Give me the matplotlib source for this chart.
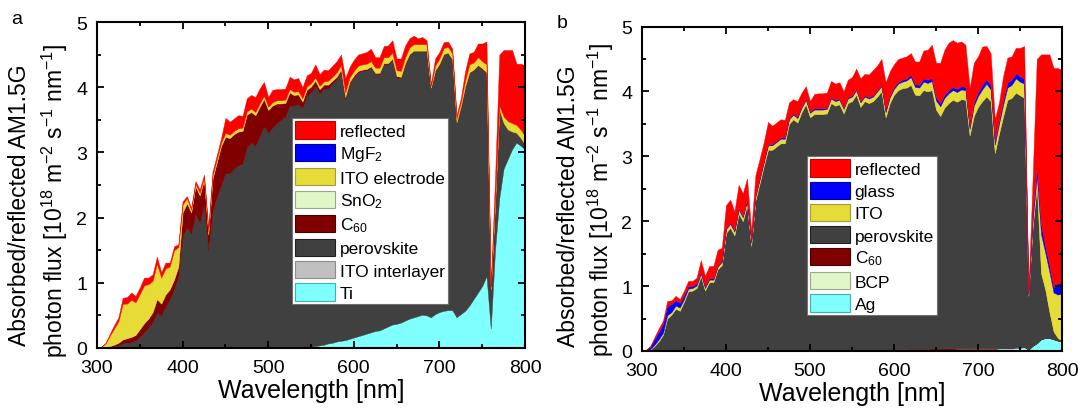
import numpy as np
import matplotlib
matplotlib.use("Agg")
import matplotlib.pyplot as plt
from matplotlib.patches import Patch
from matplotlib.ticker import MultipleLocator

plt.rcParams["font.family"] = ["Liberation Sans", "DejaVu Sans"]
plt.rcParams["mathtext.fontset"] = "custom"
plt.rcParams["mathtext.rm"] = "Liberation Sans"
plt.rcParams["mathtext.it"] = "Liberation Sans:italic"
plt.rcParams["mathtext.bf"] = "Liberation Sans:bold"

# ---------------- DATA ----------------
# wavelength grid [nm], 5 nm steps
wl = np.arange(300, 801, 5)

# ---- (a) MgF2 / ITO / SnO2 / C60 / perovskite / ITO / Ti ----
# upper edges of the stacked areas [1e18 m^-2 s^-1 nm^-1]
a_total = [0, 0.02, 0.08, 0.22, 0.35, 0.47, 0.77, 0.78, 0.85, 0.80,
           0.93, 1.08, 1.08, 1.13, 1.40, 1.16, 1.31, 1.31, 1.56, 1.59,
           2.25, 2.33, 2.15, 2.56, 2.43, 2.66, 1.85, 2.71, 2.96, 3.22,
           3.53, 3.47, 3.52, 3.57, 3.56, 3.83, 3.88, 3.85, 3.98, 4.08,
           3.85, 3.96, 3.97, 3.97, 3.98, 4.16, 4.12, 4.14, 4.00, 4.18,
           4.22, 4.35, 4.20, 4.27, 4.26, 4.33, 4.40, 4.50, 4.14, 4.31,
           4.42, 4.50, 4.52, 4.54, 4.59, 4.46, 4.46, 4.63, 4.64, 4.72,
           4.44, 4.44, 4.64, 4.75, 4.79, 4.75, 4.77, 4.72, 4.05, 4.44,
           4.54, 4.69, 4.70, 4.59, 3.57, 3.83, 4.24, 4.52, 4.54, 4.67,
           4.67, 4.70, 0.95, 2.60, 4.50, 4.57, 4.57, 4.57, 4.36, 4.36,
           4.33]
a_ito_top = [0, 0.02, 0.07, 0.19, 0.30, 0.41, 0.68, 0.68, 0.74, 0.70,
             0.83, 0.96, 0.98, 1.03, 1.30, 1.08, 1.22, 1.25, 1.50, 1.55,
             2.20, 2.30, 2.12, 2.52, 2.38, 2.62, 1.78, 2.65, 2.90, 3.15,
             3.30, 3.27, 3.33, 3.37, 3.38, 3.63, 3.67, 3.62, 3.75, 3.87,
             3.70, 3.77, 3.80, 3.80, 3.81, 3.97, 3.93, 3.94, 3.83, 4.01,
             4.06, 4.15, 4.02, 4.09, 4.10, 4.16, 4.23, 4.34, 3.92, 4.15,
             4.25, 4.33, 4.35, 4.36, 4.40, 4.30, 4.30, 4.46, 4.46, 4.53,
             4.26, 4.25, 4.46, 4.61, 4.66, 4.66, 4.66, 4.66, 4.02, 4.33,
             4.44, 4.60, 4.62, 4.52, 3.52, 3.77, 4.10, 4.35, 4.38, 4.46,
             4.40, 4.35, 0.92, 2.28, 3.72, 3.55, 3.48, 3.45, 3.42, 3.35,
             3.25]
a_c60_top = [0, 0, 0.01, 0.03, 0.05, 0.08, 0.13, 0.15, 0.17, 0.20,
             0.29, 0.38, 0.45, 0.55, 0.75, 0.68, 0.82, 0.90, 1.05, 1.25,
             2.08, 2.22, 2.08, 2.48, 2.34, 2.58, 1.74, 2.60, 2.85, 3.10,
             3.24, 3.22, 3.28, 3.32, 3.33, 3.58, 3.62, 3.57, 3.70, 3.82,
             3.65, 3.72, 3.75, 3.75, 3.76, 3.92, 3.88, 3.89, 3.78, 3.96,
             4.01, 4.10, 3.97, 4.04, 4.04, 4.10, 4.16, 4.27, 3.85, 4.08,
             4.18, 4.25, 4.27, 4.28, 4.32, 4.22, 4.22, 4.37, 4.37, 4.44,
             4.17, 4.16, 4.37, 4.51, 4.56, 4.56, 4.56, 4.56, 3.99, 4.26,
             4.36, 4.51, 4.53, 4.43, 3.46, 3.71, 4.01, 4.23, 4.27, 4.34,
             4.29, 4.23, 0.90, 2.20, 3.65, 3.45, 3.35, 3.32, 3.30, 3.22,
             3.12]
a_pero_top = [0, 0, 0.005, 0.01, 0.02, 0.04, 0.07, 0.08, 0.09, 0.11,
              0.17, 0.24, 0.31, 0.40, 0.54, 0.50, 0.64, 0.74, 0.90, 1.10,
              1.72, 1.85, 1.75, 2.05, 1.92, 2.20, 1.50, 2.10, 2.32, 2.50,
              2.68, 2.68, 2.75, 2.80, 2.83, 3.08, 3.15, 3.10, 3.25, 3.40,
              3.30, 3.38, 3.45, 3.50, 3.55, 3.72, 3.72, 3.74, 3.68, 3.86,
              3.92, 4.02, 3.90, 3.98, 3.98, 4.05, 4.12, 4.23, 3.82, 4.05,
              4.15, 4.22, 4.25, 4.26, 4.30, 4.20, 4.20, 4.35, 4.35, 4.42,
              4.15, 4.14, 4.35, 4.50, 4.55, 4.55, 4.55, 4.55, 3.98, 4.25,
              4.35, 4.50, 4.52, 4.42, 3.45, 3.70, 4.00, 4.22, 4.26, 4.33,
              4.28, 4.22, 0.90, 2.20, 3.65, 3.45, 3.35, 3.32, 3.30, 3.22,
              3.12]
a_ti_top = [0, 0, 0, 0, 0, 0, 0, 0, 0, 0,
            0, 0, 0, 0, 0, 0, 0, 0, 0, 0,
            0, 0, 0, 0, 0, 0, 0, 0, 0, 0,
            0, 0, 0, 0, 0, 0, 0, 0, 0, 0,
            0, 0, 0, 0, 0, 0, 0, 0, 0, 0.01,
            0.02, 0.03, 0.04, 0.05, 0.07, 0.08, 0.10, 0.11, 0.12, 0.14,
            0.16, 0.18, 0.20, 0.22, 0.24, 0.26, 0.27, 0.30, 0.33, 0.36,
            0.37, 0.39, 0.42, 0.45, 0.47, 0.49, 0.51, 0.50, 0.47, 0.52,
            0.55, 0.57, 0.58, 0.58, 0.47, 0.52, 0.57, 0.65, 0.75, 0.85,
            0.95, 1.10, 0.30, 1.50, 2.30, 2.75, 2.90, 3.05, 3.15, 3.10,
            3.05]

# ---- (b) glass / ITO / perovskite / C60 / BCP / Ag ----
b_total = [0, 0.02, 0.08, 0.22, 0.35, 0.47, 0.77, 0.78, 0.85, 0.80,
           0.93, 1.08, 1.08, 1.13, 1.40, 1.16, 1.31, 1.31, 1.56, 1.59,
           2.25, 2.33, 2.15, 2.56, 2.43, 2.66, 1.85, 2.71, 2.96, 3.22,
           3.53, 3.47, 3.52, 3.57, 3.56, 3.83, 3.88, 3.85, 3.98, 4.08,
           3.85, 3.96, 3.97, 3.97, 3.98, 4.16, 4.12, 4.14, 4.00, 4.18,
           4.22, 4.35, 4.20, 4.27, 4.26, 4.33, 4.40, 4.50, 4.14, 4.31,
           4.42, 4.50, 4.52, 4.54, 4.59, 4.46, 4.46, 4.63, 4.64, 4.72,
           4.44, 4.44, 4.64, 4.75, 4.79, 4.75, 4.77, 4.72, 4.05, 4.44,
           4.54, 4.69, 4.70, 4.59, 3.57, 3.83, 4.24, 4.52, 4.54, 4.67,
           4.67, 4.70, 0.90, 2.65, 4.50, 4.57, 4.57, 4.57, 4.36, 4.36,
           4.33]
b_glass_top = [0, 0.02, 0.07, 0.19, 0.30, 0.42, 0.70, 0.72, 0.79, 0.74,
               0.86, 1.00, 1.00, 1.04, 1.22, 0.99, 1.12, 1.12, 1.32, 1.39,
               1.90, 1.98, 1.86, 2.20, 2.08, 2.33, 1.69, 2.40, 2.66, 2.93,
               3.19, 3.19, 3.24, 3.29, 3.29, 3.59, 3.66, 3.61, 3.77, 3.89,
               3.69, 3.74, 3.74, 3.74, 3.75, 3.91, 3.87, 3.89, 3.75, 3.91,
               3.94, 4.04, 3.85, 3.94, 3.91, 3.94, 4.02, 4.10, 3.70, 3.94,
               4.07, 4.15, 4.18, 4.20, 4.26, 4.11, 4.10, 4.20, 4.18, 4.21,
               3.91, 3.82, 3.95, 4.02, 4.07, 4.04, 4.08, 4.07, 3.46, 3.83,
               3.99, 4.10, 4.19, 4.10, 3.24, 3.56, 3.87, 4.14, 4.18, 4.28,
               4.23, 4.20, 0.88, 2.10, 2.85, 1.95, 1.62, 1.32, 0.98, 1.05,
               1.05]
b_ito_top = [0, 0.01, 0.03, 0.10, 0.18, 0.28, 0.55, 0.60, 0.70, 0.67,
             0.80, 0.96, 0.97, 1.01, 1.19, 0.97, 1.10, 1.10, 1.30, 1.37,
             1.88, 1.96, 1.84, 2.18, 2.06, 2.31, 1.67, 2.38, 2.64, 2.91,
             3.17, 3.17, 3.22, 3.27, 3.27, 3.57, 3.64, 3.59, 3.75, 3.87,
             3.67, 3.72, 3.72, 3.72, 3.73, 3.89, 3.85, 3.87, 3.73, 3.89,
             3.92, 4.02, 3.83, 3.92, 3.89, 3.92, 4.00, 4.08, 3.68, 3.91,
             4.04, 4.12, 4.15, 4.17, 4.22, 4.07, 4.06, 4.15, 4.13, 4.16,
             3.86, 3.77, 3.90, 3.97, 4.02, 3.99, 4.03, 4.02, 3.42, 3.78,
             3.93, 4.03, 4.12, 4.03, 3.18, 3.50, 3.80, 4.06, 4.10, 4.20,
             4.15, 4.12, 0.87, 2.00, 2.70, 1.80, 1.52, 1.22, 0.90, 0.87,
             0.88]
b_pero_top = [0, 0.005, 0.02, 0.08, 0.15, 0.25, 0.50, 0.56, 0.65, 0.62,
              0.76, 0.92, 0.93, 0.97, 1.15, 0.93, 1.06, 1.06, 1.26, 1.32,
              1.82, 1.90, 1.78, 2.12, 2.00, 2.25, 1.62, 2.32, 2.58, 2.85,
              3.10, 3.10, 3.15, 3.20, 3.20, 3.50, 3.57, 3.52, 3.68, 3.80,
              3.60, 3.65, 3.65, 3.65, 3.66, 3.82, 3.78, 3.80, 3.66, 3.82,
              3.85, 3.95, 3.76, 3.85, 3.82, 3.85, 3.92, 4.00, 3.60, 3.82,
              3.95, 4.02, 4.05, 4.06, 4.10, 3.95, 3.94, 4.02, 4.00, 4.02,
              3.72, 3.62, 3.75, 3.82, 3.87, 3.84, 3.88, 3.87, 3.32, 3.62,
              3.76, 3.85, 3.92, 3.85, 3.05, 3.35, 3.62, 3.87, 3.90, 3.98,
              3.94, 3.90, 0.85, 1.90, 2.55, 1.20, 0.95, 0.60, 0.30, 0.20,
              0.16]
b_c60_top = [0, 0, 0, 0, 0, 0, 0, 0, 0, 0,
             0, 0, 0, 0, 0, 0, 0, 0, 0, 0,
             0, 0, 0, 0, 0, 0, 0, 0, 0, 0,
             0, 0, 0, 0, 0, 0, 0, 0, 0, 0,
             0, 0, 0, 0, 0, 0, 0, 0, 0, 0,
             0, 0, 0, 0, 0, 0, 0.01, 0.015, 0.02, 0.02,
             0.025, 0.025, 0.03, 0.03, 0.035, 0.035, 0.035, 0.035, 0.035, 0.04,
             0.04, 0.04, 0.04, 0.04, 0.04, 0.045, 0.045, 0.045, 0.04, 0.045,
             0.045, 0.045, 0.045, 0.045, 0.04, 0.045, 0.045, 0.05, 0.05, 0.06,
             0.06, 0.07, 0.02, 0.08, 0.12, 0.18, 0.20, 0.20, 0.18, 0.16,
             0.15]
b_ag_top = [0, 0, 0, 0, 0, 0, 0, 0, 0, 0,
            0, 0, 0, 0, 0, 0, 0, 0, 0, 0,
            0, 0, 0, 0, 0, 0, 0, 0, 0, 0,
            0, 0, 0, 0, 0, 0, 0, 0, 0, 0,
            0, 0, 0, 0, 0, 0, 0, 0, 0, 0,
            0, 0, 0, 0, 0, 0, 0, 0, 0.01, 0.01,
            0.01, 0.01, 0.01, 0.01, 0.02, 0.02, 0.02, 0.02, 0.02, 0.02,
            0.02, 0.02, 0.02, 0.02, 0.02, 0.03, 0.03, 0.03, 0.03, 0.03,
            0.03, 0.03, 0.03, 0.03, 0.03, 0.04, 0.04, 0.04, 0.04, 0.05,
            0.05, 0.06, 0.02, 0.08, 0.12, 0.18, 0.20, 0.20, 0.18, 0.16,
            0.15]

# ---------------- COLOURS ----------------
c_refl = "#ff0000"
c_blue = "#0000ff"
c_ito = "#e6db37"
c_green = "#e0f7c8"
c_c60 = "#800000"
c_pero = "#404040"
c_grey = "#c0c0c0"
c_cyan = "#80ffff"

edge = {c_refl: "#c00000", c_blue: "#0000a0", c_ito: "#a39c3a",
        c_green: "#9aa88a", c_c60: "#4a0000", c_pero: "#202020",
        c_grey: "#8c8c8c", c_cyan: "#40b0b0"}


def band(ax, lo, hi, color):
    ax.fill_between(wl, lo, hi, facecolor=color, edgecolor=color,
                    linewidth=0.3, zorder=1)


def style(ax):
    ax.set_xlim(300, 800)
    ax.set_ylim(0, 5)
    ax.xaxis.set_major_locator(MultipleLocator(100))
    ax.xaxis.set_minor_locator(MultipleLocator(50))
    ax.yaxis.set_major_locator(MultipleLocator(1))
    ax.yaxis.set_minor_locator(MultipleLocator(0.5))
    ax.tick_params(which="both", direction="in", top=True, right=True,
                   width=1.3, labelsize=14)
    ax.tick_params(which="major", length=5, pad=7)
    ax.tick_params(axis="x", which="major", pad=8)
    ax.tick_params(which="minor", length=3)
    for s in ax.spines.values():
        s.set_linewidth(1.5)
    ax.set_xlabel("Wavelength [nm]", fontsize=18, labelpad=1.5)


ylab1 = "Absorbed/reflected AM1.5G"
ylab2 = r"photon flux [10$^{18}$ m$^{-2}$ s$^{-1}$ nm$^{-1}$]"

fig = plt.figure(figsize=(10.78, 4.10), dpi=100)
W, H = 1078, 410

# ---------------- PANEL a ----------------
ax1 = fig.add_axes([97 / W, (H - 349) / H, 428 / W, 326 / H])
zero = np.zeros(len(wl))
band(ax1, zero, a_ti_top, c_cyan)
band(ax1, a_ti_top, a_pero_top, c_pero)
band(ax1, a_pero_top, a_c60_top, c_c60)
band(ax1, a_c60_top, a_ito_top, c_ito)
band(ax1, a_ito_top, a_total, c_refl)
style(ax1)
ax1.text(-0.182, 0.44, ylab1, rotation=90, ha="center", va="center",
         fontsize=16.5, transform=ax1.transAxes)
ax1.text(-0.098, 0.455, ylab2, rotation=90, ha="center", va="center",
         fontsize=16.5, transform=ax1.transAxes)
fig.text(17 / W, 1 - 20 / H, "a", fontsize=14, ha="center", va="center")

labels_a = ["reflected", "MgF$_2$", "ITO electrode", "SnO$_2$", "C$_{60}$",
            "perovskite", "ITO interlayer", "Ti"]
cols_a = [c_refl, c_blue, c_ito, c_green, c_c60, c_pero, c_grey, c_cyan]
h_a = [Patch(facecolor=c, edgecolor=edge[c], linewidth=0.8) for c in cols_a]
leg = ax1.legend(h_a, labels_a, loc="upper left",
                 bbox_to_anchor=((292 - 97) / 428, (349 - 119) / 326),
                 borderaxespad=0, fontsize=12.5, handlelength=2.25,
                 handleheight=1.15, handletextpad=0.3, labelspacing=0.28,
                 borderpad=0.2, fancybox=False, framealpha=1)
leg.get_frame().set_edgecolor("#707070")
leg.get_frame().set_linewidth(0.8)

# ---------------- PANEL b ----------------
ax2 = fig.add_axes([642 / W, (H - 352) / H, 420 / W, 324.5 / H])
band(ax2, zero, b_ag_top, c_cyan)
band(ax2, b_ag_top, b_c60_top, c_c60)
band(ax2, b_c60_top, b_pero_top, c_pero)
band(ax2, b_pero_top, b_ito_top, c_ito)
band(ax2, b_ito_top, b_glass_top, c_blue)
band(ax2, b_glass_top, b_total, c_refl)
style(ax2)
ax2.text(-0.174, 0.45, ylab1, rotation=90, ha="center", va="center",
         fontsize=16.5, transform=ax2.transAxes)
ax2.text(-0.098, 0.468, ylab2, rotation=90, ha="center", va="center",
         fontsize=16.5, transform=ax2.transAxes)
fig.text(562 / W, 1 - 23 / H, "b", fontsize=14, ha="center", va="center")

labels_b = ["reflected", "glass", "ITO", "perovskite", "C$_{60}$", "BCP", "Ag"]
cols_b = [c_refl, c_blue, c_ito, c_pero, c_c60, c_green, c_cyan]
h_b = [Patch(facecolor=c, edgecolor=edge[c], linewidth=0.8) for c in cols_b]
leg = ax2.legend(h_b, labels_b, loc="upper left",
                 bbox_to_anchor=((807 - 642) / 420, (352 - 157) / 324.5),
                 borderaxespad=0, fontsize=12.5, handlelength=2.25,
                 handleheight=1.15, handletextpad=0.3, labelspacing=0.27,
                 borderpad=0.2, fancybox=False, framealpha=1)
leg.get_frame().set_edgecolor("#707070")
leg.get_frame().set_linewidth(0.8)

fig.savefig("out.png", dpi=100)
